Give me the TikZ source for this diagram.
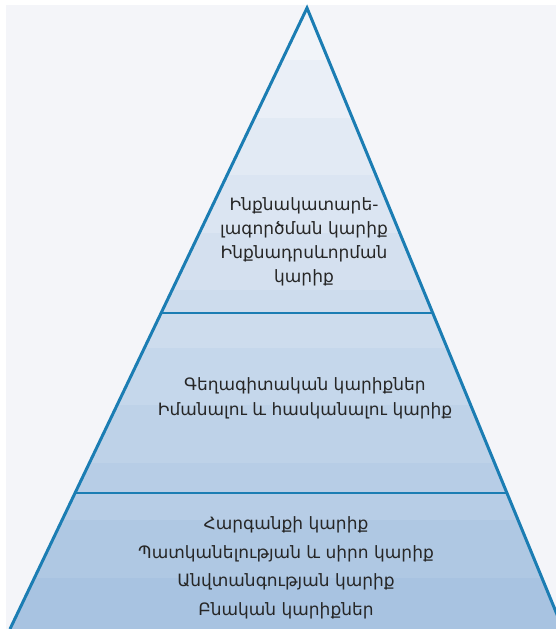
\documentclass[tikz,border=0pt]{standalone}
\usepackage{fontspec}
\usetikzlibrary{calc}
\newfontfamily\armfont{DejaVu Sans}
\definecolor{bggray}{HTML}{F4F5F9}
\definecolor{edgeblue}{HTML}{1B7DB3}
\definecolor{bandtop}{HTML}{F1F4F9}
\definecolor{bandbot}{HTML}{A8C3E1}
\definecolor{txtgray}{HTML}{262626}
\begin{document}
\begin{tikzpicture}[x=1pt, y=1pt,
    edge/.style={draw=edgeblue, line width=3pt, line join=miter},
    divider/.style={draw=edgeblue, line width=2pt},
    level/.style={text=txtgray, align=center, font=\armfont\fontsize{17}{#1}\selectfont}]
    \useasboundingbox (0,0) rectangle (556,629);
    \fill[white] (0,0) rectangle (556,629);
    \fill[bggray] (6,0) rectangle (556,624);

    \coordinate (A) at (307,621);
    \coordinate (BL) at (10,0);
    \coordinate (BR) at (563,0);

    % bands
    \begin{scope}
      \clip (A) -- (BL) -- (BR) -- cycle;
      \foreach \i in {0,...,10} {
        \pgfmathtruncatemacro{\p}{100-\i*10}
        \fill[bandtop!\p!bandbot] (0,626-\i*57.5) rectangle (556,568.5-\i*57.5);
      }
    \end{scope}

    % dividers
    \coordinate (L1) at ($(A)!0.491!(BL)$);
    \coordinate (R1) at ($(A)!0.491!(BR)$);
    \coordinate (L2) at ($(A)!0.781!(BL)$);
    \coordinate (R2) at ($(A)!0.781!(BR)$);
    \draw[divider] (L1) -- (R1);
    \draw[divider] (L2) -- (R2);
    \draw[edge] (BL) -- (A) -- (BR);

    % levels
    \node[level=24] (selfact) at (304,387) {Ինքնակատարե-\\լագործման կարիք\\Ինքնադրսևորման\\կարիք};
    \node[level=25] (aesthetic) at (305,231) {Գեղագիտական կարիքներ\\Իմանալու և հասկանալու կարիք};
    \node[level=28.5] (basic) at (286,61) {Հարգանքի կարիք\\Պատկանելության և սիրո կարիք\\Անվտանգության կարիք\\Բնական կարիքներ};

  \end{tikzpicture}
\end{document}
